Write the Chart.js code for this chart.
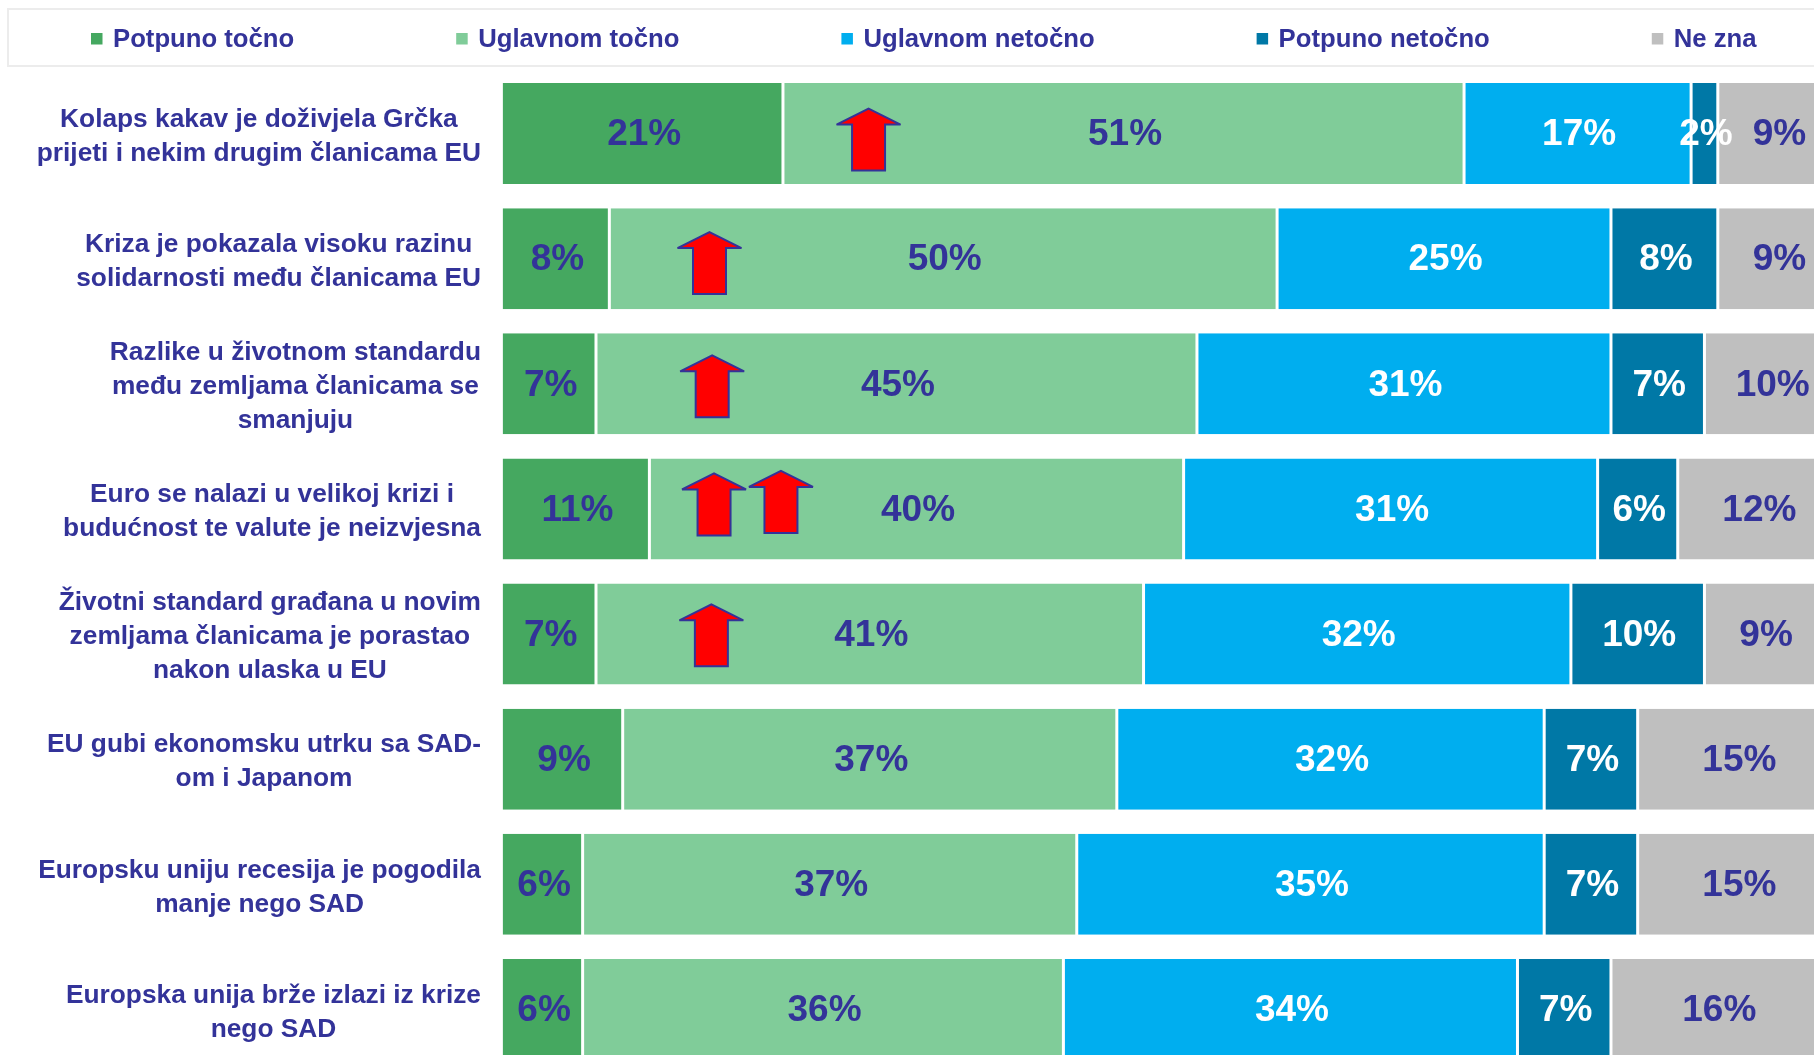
<!DOCTYPE html>
<html lang="hr">
<head>
  <meta charset="UTF-8" />
  <title>Stavovi o EU</title>
  <script src="https://cdn.jsdelivr.net/npm/chart.js"></script>
  <style>
    html, body { margin: 0; padding: 0; background: #fff; overflow: hidden; }
    #wrap { width: 1814px; height: 1055px; overflow: hidden; }
    canvas { display: block; }
  </style>
</head>
<body>
  <div id="wrap"><canvas id="euChart" width="1838" height="1072"></canvas></div>

  <script>
    const categories = [
      ['Kolaps kakav je doživjela Grčka', 'prijeti i nekim drugim članicama EU'],
      ['Kriza je pokazala visoku razinu', 'solidarnosti među članicama EU'],
      ['Razlike u životnom standardu', 'među zemljama članicama se', 'smanjuju'],
      ['Euro se nalazi u velikoj krizi i', 'budućnost te valute je neizvjesna'],
      ['Životni standard građana u novim', 'zemljama članicama je porastao', 'nakon ulaska u EU'],
      ['EU gubi ekonomsku utrku sa SAD-', 'om i Japanom'],
      ['Europsku uniju recesija je pogodila', 'manje nego SAD'],
      ['Europska unija brže izlazi iz krize', 'nego SAD']
    ];

    const potpunoTocno = [21, 8, 7, 11, 7, 9, 6, 6];
    const uglavnomTocno = [51, 50, 45, 40, 41, 37, 37, 36];
    const uglavnomNetocno = [17, 25, 31, 31, 32, 32, 35, 34];
    const potpunoNetocno = [2, 8, 7, 6, 10, 7, 7, 7];
    const neZna = [9, 9, 10, 12, 9, 15, 15, 16];

    // strelice: redak i polozaj na osi x
    const arrowRows = [0.048, 1.035, 2.02, 2.964, 2.944, 4.01];
    const arrowValues = [27.41, 15.5, 15.7, 15.84, 20.85, 15.64];

    const NAVY = '#333399';
    const FONT = '"Liberation Sans", Arial, sans-serif';

    function makeSet(label, data, color, textColor, first) {
      return {
        label, data, textColor,
        backgroundColor: color,
        borderColor: '#fff',
        borderSkipped: false,
        borderWidth: { left: first ? 0 : 1.5, right: 1.5, top: 0, bottom: 0 }
      };
    }

    function drawLegend(chart) {
      const ctx = chart.ctx;
      ctx.save();
      ctx.strokeStyle = '#ececec';
      ctx.lineWidth = 2;
      ctx.strokeRect(8, 9, chart.width, 57);
      ctx.font = 'bold 25.7px ' + FONT;
      ctx.textAlign = 'left';
      ctx.textBaseline = 'middle';
      let x = 91;
      chart.data.datasets.forEach(ds => {
        ctx.fillStyle = ds.backgroundColor;
        ctx.fillRect(x, 33, 11.5, 11.5);
        ctx.fillStyle = NAVY;
        ctx.fillText(ds.label, x + 22, 40);
        x += 22 + ctx.measureText(ds.label).width + 162;
      });
      ctx.restore();
    }

    function drawCategories(chart) {
      const ctx = chart.ctx;
      const yScale = chart.scales.y;
      ctx.save();
      ctx.font = 'bold 26.3px ' + FONT;
      ctx.fillStyle = NAVY;
      ctx.textAlign = 'center';
      ctx.textBaseline = 'middle';
      categories.forEach((lines, i) => {
        const widest = Math.max(...lines.map(l => ctx.measureText(l).width));
        const cx = 481 - widest / 2;
        const top = yScale.getPixelForValue(i) + 3 - (lines.length - 1) * 17;
        lines.forEach((l, j) => ctx.fillText(l, cx, top + j * 34));
      });
      ctx.restore();
    }

    function drawValues(chart) {
      const ctx = chart.ctx;
      ctx.save();
      ctx.font = 'bold 37px ' + FONT;
      ctx.textAlign = 'center';
      ctx.textBaseline = 'middle';
      chart.data.datasets.forEach((ds, d) => {
        ctx.fillStyle = ds.textColor;
        chart.getDatasetMeta(d).data.forEach((bar, i) => {
          const c = bar.getCenterPoint();
          ctx.fillText(ds.data[i] + '%', c.x + 1.5, c.y + 1.5);
        });
      });
      ctx.restore();
    }

    function drawArrows(chart) {
      const ctx = chart.ctx;
      ctx.save();
      ctx.fillStyle = '#ff0000';
      ctx.strokeStyle = NAVY;
      ctx.lineWidth = 2;
      ctx.lineJoin = 'miter';
      ctx.miterLimit = 2.5;
      arrowRows.forEach((row, i) => {
        const x = chart.scales.x.getPixelForValue(arrowValues[i]);
        const y = chart.scales.y.getPixelForValue(row);
        ctx.beginPath();
        ctx.moveTo(x, y - 31);
        ctx.lineTo(x + 32, y - 15);
        ctx.lineTo(x + 16.5, y - 15);
        ctx.lineTo(x + 16.5, y + 31);
        ctx.lineTo(x - 16.5, y + 31);
        ctx.lineTo(x - 16.5, y - 15);
        ctx.lineTo(x - 32, y - 15);
        ctx.closePath();
        ctx.fill();
        ctx.stroke();
      });
      ctx.restore();
    }

    const extras = {
      id: 'extras',
      afterDraw(chart) {
        drawLegend(chart);
        drawCategories(chart);
        drawValues(chart);
        drawArrows(chart);
      }
    };

    new Chart(document.getElementById('euChart'), {
      type: 'bar',
      plugins: [extras],
      data: {
        labels: categories,
        datasets: [
          makeSet('Potpuno točno', potpunoTocno, '#45a860', NAVY, true),
          makeSet('Uglavnom točno', uglavnomTocno, '#80cc99', NAVY),
          makeSet('Uglavnom netočno', uglavnomNetocno, '#00aeef', '#fff'),
          makeSet('Potpuno netočno', potpunoNetocno, '#0078a6', '#fff'),
          makeSet('Ne zna', neZna, '#bfbfbf', NAVY)
        ]
      },
      options: {
        indexAxis: 'y',
        responsive: false,
        animation: false,
        layout: { padding: { left: 502.5, top: 71, right: 0, bottom: 0 } },
        datasets: { bar: { categoryPercentage: 1, barPercentage: 0.807 } },
        scales: {
          x: { display: false, stacked: true, min: 0, max: 100 },
          y: { display: false, stacked: true }
        },
        plugins: {
          legend: { display: false },
          tooltip: { enabled: false }
        }
      }
    });
  </script>
</body>
</html>
